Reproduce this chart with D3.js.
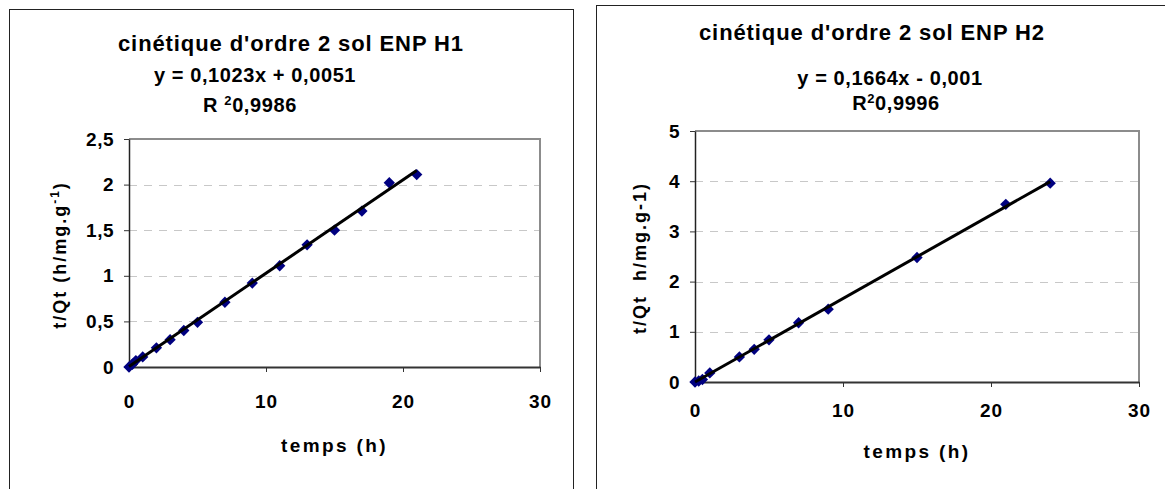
<!DOCTYPE html>
<html>
<head>
<meta charset="utf-8">
<script src="https://cdn.jsdelivr.net/npm/d3@7"></script>
<style>
  body { margin: 0; background: #fff; }
  svg text { font-family: Arial, "Liberation Sans", sans-serif; font-weight: bold; fill: #000; }
</style>
</head>
<body>
<div id="chart"></div>
<script>
// values
var h1Time  = [0, 0.25, 0.5, 1, 2, 3, 4, 5, 7, 9, 11, 13, 15, 17, 19, 21];
var h1Ratio = [0, 0.03, 0.07, 0.11, 0.21, 0.30, 0.40, 0.49, 0.71, 0.92, 1.11, 1.34, 1.50, 1.71, 2.02, 2.11];
var h2Time  = [0, 0.25, 0.5, 1, 3, 4, 5, 7, 9, 15, 21, 24];
var h2Ratio = [0, 0.02, 0.05, 0.18, 0.50, 0.65, 0.84, 1.18, 1.45, 2.48, 3.54, 3.96];

// linear fits: slope, intercept
var h1Fit = [0.1023, 0.0051];
var h2Fit = [0.1664, -0.001];

var xTicks = [0, 10, 20, 30];
var h1YTicks = [0, 0.5, 1, 1.5, 2, 2.5];
var h2YTicks = [0, 1, 2, 3, 4, 5];

var w = 1165, h = 489;

var svg = d3.select("#chart")
    .append("svg")
    .attr("width", w)
    .attr("height", h);

svg.append("rect").attr("width", w).attr("height", h).attr("fill", "#fff");

// comma as decimal separator
var fmt = function (d) { return String(d).replace(".", ","); };

function drawPanel(p) {
    var g = svg.append("g");

    // outer chart frame
    g.append("rect")
        .attr("x", p.frame[0] + 0.5).attr("y", p.frame[1] + 0.5)
        .attr("width", p.frame[2]).attr("height", p.frame[3])
        .attr("fill", "none").attr("stroke", "#222").attr("stroke-width", 1);

    var x = d3.scaleLinear().domain([0, 30]).range([p.left, p.right]);
    var y = d3.scaleLinear().domain([0, p.yTicks[p.yTicks.length - 1]]).range([p.bottom, p.top]);

    // dashed gridlines
    g.selectAll("line.grid")
        .data(p.yTicks.slice(1, -1))
        .enter()
        .append("line")
        .attr("class", "grid")
        .attr("x1", p.left).attr("x2", p.right)
        .attr("y1", function (d) { return Math.round(y(d)) + 0.5; })
        .attr("y2", function (d) { return Math.round(y(d)) + 0.5; })
        .attr("stroke", "#c8c8c8")
        .attr("stroke-dasharray", "8,7");

    // grey top / right border of plot area
    g.append("path")
        .attr("d", "M" + p.left + "," + p.top + "H" + p.right + "V" + p.bottom)
        .attr("fill", "none").attr("stroke", "#8c8c8c").attr("stroke-width", 2);

    // x axis
    var xAxis = g.append("g")
        .attr("transform", "translate(0," + p.bottom + ")")
        .call(d3.axisBottom(x).tickValues(xTicks).tickFormat(fmt)
            .tickSize(5).tickSizeOuter(0).tickPadding(p.xPad));
    xAxis.select(".domain").attr("stroke", "#333").attr("stroke-width", 2);
    xAxis.selectAll("line").attr("stroke", "#333");
    xAxis.selectAll("text").attr("font-size", 19).attr("letter-spacing", 1);

    // y axis
    var yAxis = g.append("g")
        .attr("transform", "translate(" + p.left + ",0)")
        .call(d3.axisLeft(y).tickValues(p.yTicks).tickFormat(fmt)
            .tickSize(5).tickSizeOuter(0).tickPadding(10));
    yAxis.select(".domain").attr("stroke", "#222").attr("stroke-width", 1.5);
    yAxis.selectAll("line").attr("stroke", "#333");
    yAxis.selectAll("text").attr("font-size", 19).attr("letter-spacing", 0.5);

    // points
    g.selectAll("path.pt")
        .data(p.xs)
        .enter()
        .append("path")
        .attr("class", "pt")
        .attr("d", d3.symbol().type(d3.symbolSquare).size(64))
        .attr("transform", function (d, i) {
            return "translate(" + x(d) + "," + y(p.ys[i]) + ") rotate(45)";
        })
        .attr("fill", "#000080");

    // trend line
    var xEnd = d3.max(p.xs);
    var line = d3.line()
        .x(function (d) { return x(d); })
        .y(function (d) { return y(p.fit[0] * d + p.fit[1]); });
    g.append("path")
        .datum([0, xEnd])
        .attr("d", line)
        .attr("fill", "none").attr("stroke", "#000").attr("stroke-width", 3);

    // titles
    g.append("text")
        .attr("x", p.title[0]).attr("y", p.title[1])
        .attr("text-anchor", "middle").attr("font-size", 22).attr("letter-spacing", 0.9)
        .text(p.titleText);

    g.append("text")
        .attr("x", p.eq[0]).attr("y", p.eq[1])
        .attr("text-anchor", "middle").attr("font-size", 20).attr("letter-spacing", 0.6)
        .text(p.eqText);

    var r2 = g.append("text")
        .attr("x", p.r2[0]).attr("y", p.r2[1])
        .attr("text-anchor", "middle").attr("font-size", 20).attr("letter-spacing", 0.6);
    r2.append("tspan").text(p.r2Pre);
    r2.append("tspan").attr("font-size", 13).attr("dy", -7).text("2");
    r2.append("tspan").attr("dy", 7).text(p.r2Val);

    // axis titles
    g.append("text")
        .attr("x", p.xTitle[0]).attr("y", p.xTitle[1])
        .attr("text-anchor", "middle").attr("font-size", 19).attr("letter-spacing", 2.4)
        .text("temps (h)");

    var yt = g.append("text")
        .attr("transform", "translate(" + p.yTitle[0] + "," + p.yTitle[1] + ") rotate(-90)")
        .attr("text-anchor", "middle").attr("font-size", p.yTitleSize).attr("letter-spacing", 2)
        .attr("xml:space", "preserve");
    yt.append("tspan").text(p.yTitleText);
    if (p.yTitleSup) {
        yt.append("tspan").attr("font-size", 12).attr("dy", -7).text(p.yTitleSup);
        yt.append("tspan").attr("dy", 7).text(")");
    }
}

drawPanel({
    frame: [9, 9, 564, 520],
    left: 129, right: 540, top: 139, bottom: 367,
    yTicks: h1YTicks, xPad: 23,
    xs: h1Time, ys: h1Ratio, fit: h1Fit,
    titleText: "cinétique d'ordre 2 sol ENP H1", title: [291, 51],
    eqText: "y = 0,1023x + 0,0051", eq: [255, 82],
    r2Pre: "R ", r2Val: "0,9986", r2: [250, 112],
    xTitle: [334.5, 452],
    yTitleText: "t/Qt (h/mg.g", yTitleSup: "-1", yTitleSize: 18, yTitle: [66, 255]
});

drawPanel({
    frame: [596, 5, 600, 520],
    left: 695, right: 1139, top: 131, bottom: 382,
    yTicks: h2YTicks, xPad: 17,
    xs: h2Time, ys: h2Ratio, fit: h2Fit,
    titleText: "cinétique d'ordre 2 sol ENP H2", title: [872, 40],
    eqText: "y = 0,1664x - 0,001", eq: [890, 85],
    r2Pre: "R", r2Val: "0,9996", r2: [896, 110],
    xTitle: [917, 458],
    yTitleText: "t/Qt  h/mg.g-1)", yTitleSup: null, yTitleSize: 18, yTitle: [646, 258]
});
</script>
</body>
</html>
